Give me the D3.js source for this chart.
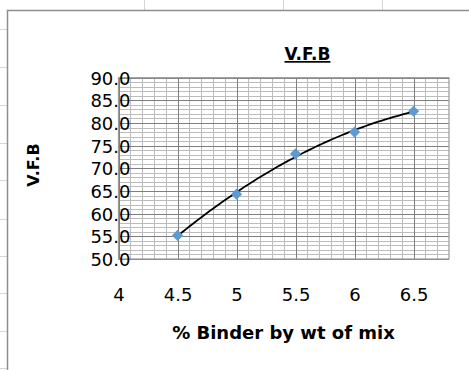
<!DOCTYPE html>
<html>
<head>
<meta charset="utf-8">
<script src="https://cdn.jsdelivr.net/npm/d3@7"></script>
<style>
  html, body { margin: 0; padding: 0; background: #ffffff; }
  svg { display: block; }
  text { font-family: "DejaVu Sans", sans-serif; fill: #000; }
</style>
</head>
<body>
<svg id="chart" width="469" height="370"></svg>
<script>
// Binder content (% by weight of mix) and measured voids filled with bitumen
const binder = [4.5, 5, 5.5, 6, 6.5];
const vfb = [55.2, 64.3, 73.2, 78.0, 82.6];
const xTicks = [4, 4.5, 5, 5.5, 6, 6.5];
const yTicks = [50, 55, 60, 65, 70, 75, 80, 85, 90];

const svg = d3.select("#chart");
const W = 469, H = 370;

// worksheet cell lines behind the chart object
const sheet = svg.append("g").attr("stroke", "#d6d6d6").attr("stroke-width", 1);
[29, 67, 105, 143, 180, 219, 256, 293, 331, 368].forEach(y =>
  sheet.append("line").attr("x1", 0).attr("x2", 8).attr("y1", y + 0.5).attr("y2", y + 0.5));
[144, 283, 382].forEach(x =>
  sheet.append("line").attr("x1", x + 0.5).attr("x2", x + 0.5).attr("y1", 0).attr("y2", 11));

// chart area
svg.append("rect").attr("x", 7.5).attr("y", 10.5).attr("width", W).attr("height", H)
  .attr("fill", "#fff").attr("stroke", "#8e8e8e").attr("stroke-width", 1.5);

const x = d3.scaleLinear().domain([4, 6.8]).range([118.5, 449]);
const y = d3.scaleLinear().domain([50, 90]).range([259, 77.7]);

const plot = svg.append("g");

// minor gridlines
const xMinor = d3.range(41, 68).map(v => v / 10);
const yMinor = d3.range(51, 90);
plot.selectAll(".ymin").data(yMinor).join("line")
  .attr("x1", x(4)).attr("x2", x(6.8))
  .attr("y1", d => Math.round(y(d)) + 0.5).attr("y2", d => Math.round(y(d)) + 0.5)
  .attr("stroke", "#bcbcbc").attr("stroke-width", 1);
plot.selectAll(".xmin").data(xMinor).join("line")
  .attr("x1", d => Math.round(x(d)) + 0.5).attr("x2", d => Math.round(x(d)) + 0.5)
  .attr("y1", y(90)).attr("y2", y(50))
  .attr("stroke", "#bcbcbc").attr("stroke-width", 1);

// major gridlines
plot.selectAll(".ymaj").data(yTicks).join("line")
  .attr("x1", x(4)).attr("x2", x(6.8))
  .attr("y1", d => Math.round(y(d)) + 0.5).attr("y2", d => Math.round(y(d)) + 0.5)
  .attr("stroke", "#7f7f7f").attr("stroke-width", 1);
plot.selectAll(".xmaj").data(xTicks).join("line")
  .attr("x1", d => Math.round(x(d)) + 0.5).attr("x2", d => Math.round(x(d)) + 0.5)
  .attr("y1", y(90)).attr("y2", y(50))
  .attr("stroke", "#7f7f7f").attr("stroke-width", 1);

// plot area border
plot.append("rect")
  .attr("x", x(4)).attr("y", y(90))
  .attr("width", x(6.8) - x(4)).attr("height", y(50) - y(90))
  .attr("fill", "none").attr("stroke", "#9a9a9a").attr("stroke-width", 1.2);

// axes labels via d3 axes (domain and tick marks hidden)
const yAxis = svg.append("g").attr("transform", `translate(${x(4) + 12},0)`)
  .call(d3.axisLeft(y).tickValues(yTicks).tickFormat(d3.format(".1f")).tickSize(0).tickPadding(0));
yAxis.select(".domain").remove();
yAxis.selectAll("text").attr("font-size", 18).attr("font-family", "DejaVu Sans").attr("fill", "#000")
  .attr("dy", "0.36em");

const xAxis = svg.append("g").attr("transform", `translate(0,${y(50)})`)
  .call(d3.axisBottom(x).tickValues(xTicks).tickFormat(d3.format("")).tickSize(0).tickPadding(0));
xAxis.select(".domain").remove();
xAxis.selectAll("text").attr("font-size", 18).attr("font-family", "DejaVu Sans").attr("fill", "#000")
  .attr("dy", 0).attr("y", 41.5);

// quadratic trendline fitted to the measured points
function polyfit2(xs, ys) {
  const n = xs.length;
  let s = [0, 0, 0, 0, 0], t = [0, 0, 0];
  for (let i = 0; i < n; i++) {
    for (let k = 0; k < 5; k++) s[k] += Math.pow(xs[i], k);
    for (let k = 0; k < 3; k++) t[k] += ys[i] * Math.pow(xs[i], k);
  }
  const A = [[s[0], s[1], s[2], t[0]], [s[1], s[2], s[3], t[1]], [s[2], s[3], s[4], t[2]]];
  for (let c = 0; c < 3; c++) {
    for (let r = c + 1; r < 3; r++) {
      const f = A[r][c] / A[c][c];
      for (let k = c; k < 4; k++) A[r][k] -= f * A[c][k];
    }
  }
  const coef = [0, 0, 0];
  for (let r = 2; r >= 0; r--) {
    let v = A[r][3];
    for (let k = r + 1; k < 3; k++) v -= A[r][k] * coef[k];
    coef[r] = v / A[r][r];
  }
  return coef;
}
const c = polyfit2(binder, vfb);
const trend = d3.range(0, 81).map(i => {
  const xv = binder[0] + (binder[binder.length - 1] - binder[0]) * i / 80;
  return [xv, c[0] + c[1] * xv + c[2] * xv * xv];
});
svg.append("path").datum(trend)
  .attr("d", d3.line().x(d => x(d[0])).y(d => y(d[1])))
  .attr("fill", "none").attr("stroke", "#000").attr("stroke-width", 1.8);

// markers
svg.selectAll(".pt").data(binder.map((b, i) => [b, vfb[i]])).join("path")
  .attr("transform", d => `translate(${x(d[0])},${y(d[1])})`)
  .attr("d", d3.symbol().type(d3.symbolDiamond2).size(80))
  .attr("fill", "#5b9bd5");

// titles
svg.append("text").attr("x", 307.5).attr("y", 60).attr("text-anchor", "middle")
  .attr("font-size", 17).attr("font-weight", "bold").attr("text-decoration", "underline")
  .text("V.F.B");
svg.append("text").attr("transform", "translate(39,165) rotate(-90)").attr("text-anchor", "middle")
  .attr("font-size", 16).attr("font-weight", "bold").text("V.F.B");
svg.append("text").attr("x", 283.5).attr("y", 339).attr("text-anchor", "middle")
  .attr("font-size", 18).attr("font-weight", "bold").text("% Binder by wt of mix");
</script>
</body>
</html>
